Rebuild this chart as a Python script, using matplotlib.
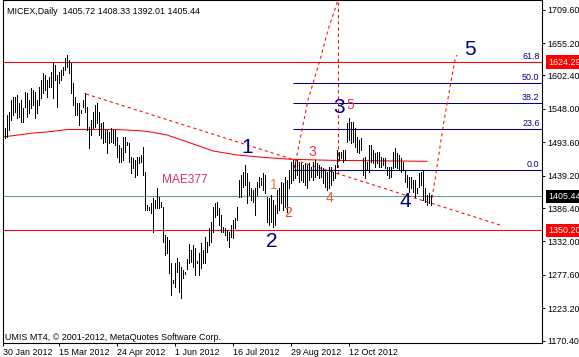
import matplotlib
matplotlib.use("Agg")
import matplotlib.pyplot as plt
from matplotlib.ticker import FormatStrFormatter

plt.rcParams['font.family'] = ['Liberation Sans', 'DejaVu Sans']

# MICEX daily bars, highs and lows (one per trading day)
bar_high = [
    1516.8, 1516.8, 1538.0, 1542.9, 1562.4, 1567.3, 1567.3, 1570.6, 1557.6, 1562.4,
    1549.4, 1575.5, 1573.8, 1562.4, 1582.0, 1578.7, 1575.5, 1562.4, 1583.6, 1595.0,
    1606.4, 1603.2, 1595.0, 1599.9, 1608.0, 1624.3, 1619.4, 1603.2, 1608.0, 1611.3,
    1616.2, 1630.8, 1635.7, 1627.6, 1622.7, 1590.1, 1567.3, 1557.6, 1557.6, 1546.2,
    1562.4, 1573.8, 1551.0, 1518.5, 1529.9, 1542.9, 1554.3, 1557.6, 1542.9, 1525.0,
    1526.6, 1513.6, 1513.6, 1510.3, 1516.8, 1513.6, 1513.6, 1502.2, 1489.2, 1484.3,
    1502.2, 1502.2, 1494.0, 1492.4, 1469.6, 1468.0, 1464.7, 1469.6, 1469.6, 1472.9,
    1485.9, 1445.2, 1391.4, 1388.2, 1394.7, 1402.9, 1399.6, 1419.1, 1404.5, 1396.3,
    1388.2, 1342.6, 1339.3, 1334.4, 1297.0, 1269.3, 1297.0, 1305.1, 1298.6, 1290.5,
    1285.6, 1282.3, 1303.5, 1327.9, 1318.2, 1326.3, 1321.4, 1300.2, 1313.3, 1329.5,
    1318.2, 1339.3, 1331.2, 1354.0, 1363.8, 1388.2, 1394.7, 1396.3, 1386.6, 1375.2,
    1355.6, 1354.0, 1350.7, 1347.5, 1358.9, 1367.0, 1370.3, 1388.2, 1432.2, 1440.3,
    1445.2, 1456.6, 1443.5, 1428.9, 1419.1, 1415.9, 1419.1, 1428.9, 1437.0, 1435.4,
    1443.5, 1440.3, 1404.5, 1402.9, 1407.7, 1399.6, 1391.4, 1415.9, 1419.1, 1428.9,
    1427.3, 1437.0, 1432.2, 1448.4, 1461.5, 1464.7, 1461.5, 1464.7, 1461.5, 1459.8,
    1456.6, 1459.8, 1456.6, 1459.8, 1453.3, 1461.5, 1464.7, 1459.8, 1456.6, 1453.3,
    1451.7, 1448.4, 1445.2, 1453.3, 1453.3, 1445.2, 1456.6, 1481.0, 1477.8, 1477.8,
    1481.0, 1481.0, 1525.0, 1533.1, 1526.6, 1526.6, 1516.8, 1502.2, 1497.3, 1500.6,
    1468.0, 1469.6, 1461.5, 1489.2, 1489.2, 1481.0, 1476.1, 1477.8, 1477.8, 1469.6,
    1468.0, 1468.0, 1453.3, 1453.3, 1453.3, 1477.8, 1484.3, 1476.1, 1472.9, 1468.0,
    1461.5, 1448.4, 1440.3, 1437.0, 1437.0, 1432.2, 1432.2, 1419.1, 1443.5, 1445.2,
    1448.4, 1419.1, 1407.7, 1411.0, 1408.33,
]
bar_low = [
    1485.9, 1500.6, 1502.2, 1513.6, 1529.9, 1538.0, 1542.9, 1533.1, 1534.8, 1526.6,
    1526.6, 1551.0, 1534.8, 1541.3, 1549.4, 1554.3, 1533.1, 1541.3, 1554.3, 1565.7,
    1573.8, 1578.7, 1567.3, 1583.6, 1583.6, 1565.7, 1595.0, 1551.0, 1590.1, 1595.0,
    1603.2, 1611.3, 1616.2, 1606.4, 1573.8, 1554.3, 1538.0, 1538.0, 1521.7, 1541.3,
    1551.0, 1542.9, 1513.6, 1484.3, 1505.4, 1516.8, 1518.5, 1525.0, 1505.4, 1500.6,
    1492.4, 1494.0, 1476.1, 1492.4, 1494.0, 1492.4, 1489.2, 1469.6, 1461.5, 1461.5,
    1464.7, 1477.8, 1489.2, 1461.5, 1443.5, 1451.7, 1437.0, 1440.3, 1459.8, 1461.5,
    1440.3, 1383.3, 1383.3, 1383.3, 1378.4, 1347.5, 1386.6, 1386.6, 1386.6, 1388.2,
    1331.2, 1310.0, 1313.3, 1280.7, 1244.9, 1264.4, 1257.9, 1282.3, 1249.7, 1240.0,
    1272.6, 1279.1, 1287.2, 1297.0, 1298.6, 1290.5, 1277.4, 1297.0, 1277.4, 1288.8,
    1297.0, 1297.0, 1314.9, 1326.3, 1331.2, 1347.5, 1371.9, 1375.2, 1358.9, 1347.5,
    1347.5, 1342.6, 1334.4, 1323.0, 1339.3, 1337.7, 1354.0, 1367.0, 1404.5, 1404.5,
    1420.8, 1424.0, 1394.7, 1407.7, 1399.6, 1396.3, 1375.2, 1407.7, 1420.8, 1424.0,
    1415.9, 1411.0, 1363.8, 1358.9, 1363.8, 1355.6, 1358.9, 1378.4, 1383.3, 1394.7,
    1383.3, 1388.2, 1380.1, 1419.1, 1427.3, 1432.2, 1435.4, 1440.3, 1428.9, 1432.2,
    1428.9, 1424.0, 1419.1, 1432.2, 1437.0, 1432.2, 1437.0, 1440.3, 1435.4, 1437.0,
    1427.3, 1420.8, 1415.9, 1419.1, 1424.0, 1432.2, 1435.4, 1453.3, 1464.7, 1468.0,
    1461.5, 1464.7, 1494.0, 1497.3, 1492.4, 1494.0, 1485.9, 1477.8, 1476.1, 1481.0,
    1440.3, 1435.4, 1448.4, 1445.2, 1461.5, 1459.8, 1453.3, 1459.8, 1453.3, 1453.3,
    1456.6, 1451.7, 1440.3, 1435.4, 1437.0, 1451.7, 1453.3, 1451.7, 1448.4, 1445.2,
    1448.4, 1428.9, 1420.8, 1412.6, 1419.1, 1412.6, 1404.5, 1411.0, 1420.8, 1424.0,
    1399.6, 1396.3, 1391.4, 1394.7, 1392.01,
]

# moving average MAE377 (read at a few points)
ma_idx = [0, 14, 24, 32, 57, 69, 75, 82, 88, 98, 105, 117, 131, 144, 164, 189, 212]
ma_val = [1502.2, 1508.2, 1511.1, 1514.4, 1514.4, 1512.3, 1509.8, 1505.4, 1498.9,
          1487.5, 1479.4, 1472.9, 1468.8, 1465.9, 1464.2, 1463.4, 1462.6]

# dotted trend line
trend_idx = [41.5, 248.5]
trend_val = [1572.2, 1358.9]

# dotted projection curves
left_arc_idx = [145.5, 147, 148.5, 150.5, 152.5, 155.5, 158.5, 162.5, 167.5]
left_arc_val = [1451.7, 1472.9, 1497.3, 1529.9, 1562.4, 1595.0, 1627.6, 1676.4, 1725.3]
right_arc_idx = [214.5, 216, 217.5, 220, 223.5, 226, 227]
right_arc_val = [1402.8, 1432.2, 1464.7, 1518.5, 1583.6, 1627.6, 1635.7]
vline_idx = 167.5
vline_val = [1442.6, 1740.0]

# Fibonacci retracement
fib_start = 145
fib_low = 1448.4
fib_high = 1733.0
fib_levels = [0.0, 23.6, 38.2, 50.0, 61.8]

# horizontal levels
red_levels = [1624.29, 1350.20]
bid_price = 1405.44

# wave labels: big (dark blue) and small (red/orange)
big_waves = ['1', '2', '3', '4', '5']
big_idx = [122, 134.5, 168, 201, 233.5]
big_val = [1484.3, 1332.8, 1551.0, 1397.9, 1643.9]
small_waves = ['1', '2', '3', '4', '5']
small_idx = [135.5, 142.5, 154.5, 163.5, 173.5]
small_val = [1424.0, 1378.4, 1477.8, 1402.9, 1554.3]
small_colors = ['#f07a30', '#ff3a1a', '#e8304a', '#f0602a', '#f03048']

y_ticks = [1170.4, 1223.2, 1277.6, 1332.0, 1386.4, 1439.2, 1493.6, 1548.0, 1602.4, 1655.2, 1709.6]
date_idx = [0, 28, 57, 86, 115, 144, 173]
date_labels = ['30 Jan 2012', '15 Mar 2012', '24 Apr 2012', '1 Jun 2012',
               '16 Jul 2012', '29 Aug 2012', '12 Oct 2012']

W, H = 579, 357
fig = plt.figure(figsize=(W / 100, H / 100), dpi=100)
ax = fig.add_axes([2.5 / W, 1 - 342.5 / H, 539 / W, 342.5 / H])
ax.set_xlim(-0.25, 269.25)
ax.set_ylim(1167.5, 1725.3)

navy = '#00008b'
fs = 6.4
lw = 0.75

# fibonacci levels
for lev in fib_levels:
    p = fib_low + (fib_high - fib_low) * lev / 100
    ax.hlines(p, fib_start, 269.25, colors=navy, linewidth=lw)
    ax.text(268.3, p + 1.5, f'{lev:.1f}', color=navy, fontsize=fs, ha='right', va='bottom')

# horizontal lines
for p in red_levels:
    ax.axhline(p, color='red', linewidth=lw)
ax.axhline(bid_price, color='#5f9ea0', linewidth=lw)

# moving average
ax.plot(ma_idx, ma_val, color='red', linewidth=lw)

# dotted lines
dot = dict(color='red', linewidth=lw, linestyle=(0, (3, 3)))
ax.plot(trend_idx, trend_val, **dot)
ax.plot(left_arc_idx, left_arc_val, **dot)
ax.plot(right_arc_idx, right_arc_val, **dot)
ax.plot([vline_idx, vline_idx], vline_val, **dot)

# price bars
ax.vlines(range(len(bar_high)), bar_low, bar_high, colors='black',
          linewidth=0.5, antialiased=False)

# labels
ax.text(79.5, 1432.2, 'MAE377', color='#e0306a', fontsize=8.6, ha='left', va='center')
for t, i, v in zip(big_waves, big_idx, big_val):
    ax.text(i, v, t, color=navy, fontsize=15, ha='center', va='center')
for t, i, v, c in zip(small_waves, small_idx, small_val, small_colors):
    ax.text(i, v, t, color=c, fontsize=10, ha='center', va='center')

# axes styling
for s in ax.spines.values():
    s.set_color('black')
    s.set_linewidth(0.8)
ax.yaxis.tick_right()
ax.set_yticks(y_ticks)
ax.yaxis.set_major_formatter(FormatStrFormatter('%.2f'))
ax.set_xticks(date_idx)
ax.set_xticklabels(date_labels)
for lab in ax.get_xticklabels():
    lab.set_horizontalalignment('left')
ax.tick_params(axis='both', direction='out', length=2.2, width=0.7, labelsize=fs, pad=2)

# price tags on the scale
tags = [(red_levels[0], 'red'), (red_levels[1], 'red'), (bid_price, 'black')]
for p, c in tags:
    ax.annotate(f'{p:.2f}', xy=(1, p), xycoords=('axes fraction', 'data'),
                xytext=(4.6, 0), textcoords='offset points', color='white',
                fontsize=fs, va='center', ha='left', annotation_clip=False,
                bbox=dict(boxstyle='square,pad=0.25', fc=c, ec='none'))

fig.text(7 / W, 1 - 11 / H, 'MICEX,Daily  1405.72 1408.33 1392.01 1405.44',
         fontsize=fs, va='center', ha='left')
fig.text(5 / W, 1 - 337 / H, 'UMIS MT4, © 2001-2012, MetaQuotes Software Corp.',
         fontsize=fs, va='center', ha='left')

fig.savefig('out.png', dpi=100)
